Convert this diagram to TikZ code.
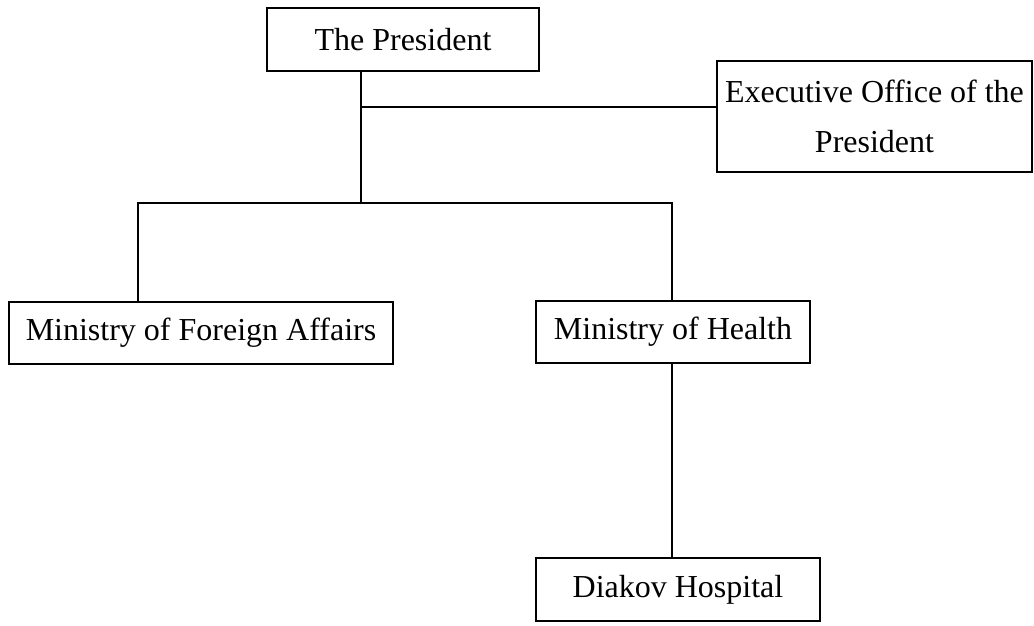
\documentclass[tikz,border=0pt]{standalone}
\usepackage{fontspec}
\setmainfont{Liberation Serif}
\begin{document}
\begin{tikzpicture}[x=1pt,y=-1pt,
  orgbox/.style={draw, line width=1.6pt, inner sep=0pt, align=center,
    font=\fontsize{32}{50}\selectfont},
  link/.style={line width=1.6pt}]
\useasboundingbox (0,0) rectangle (1034,625);
% units
\node[orgbox, minimum width=272, minimum height=63] (pres) at (403,39.5) {The President};
\node[orgbox, minimum width=315, minimum height=111] (exec) at (874.5,116.5) {Executive Office of the\\President};
\node[orgbox, minimum width=384, minimum height=62] (fa) at (201,333) {Ministry of Foreign Affairs};
\node[orgbox, minimum width=274, minimum height=62] (health) at (673,332) {Ministry of Health};
\node[orgbox, minimum width=284, minimum height=63] (diak) at (678,589.5) {Diakov Hospital};
% junction points
\coordinate (j) at (361,107);
\coordinate (bus) at (361,203);
\coordinate (fadrop) at (138,203);
\coordinate (hdrop) at (672,203);
% connectors
\draw[link] (pres.south -| j) -- (bus);
\draw[link] (j) -- (exec.west |- j);
\draw[link] (fa.north -| fadrop) -- (fadrop) -- (hdrop) -- (health.north -| hdrop);
\draw[link] (health.south -| hdrop) -- (diak.north -| hdrop);
\end{tikzpicture}
\end{document}
